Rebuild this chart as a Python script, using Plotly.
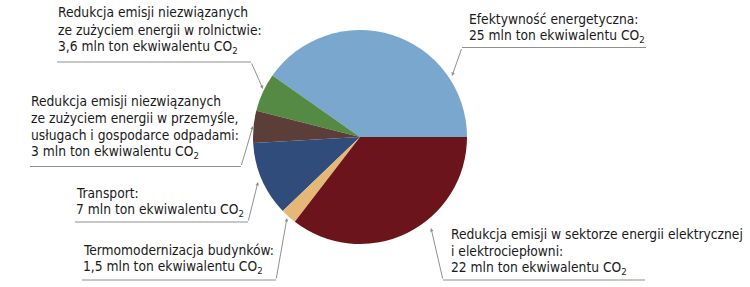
import plotly.graph_objects as go

W, H = 750, 287

# ---- data ----
categories = [
    "Efektywność energetyczna",
    "Rolnictwo",
    "Przemysł, usługi i gospodarka odpadami",
    "Transport",
    "Termomodernizacja budynków",
    "Sektor energii elektrycznej i elektrociepłownie",
]
values = [25, 3.6, 3, 7, 1.5, 22]
colors = ["#7AA7CD", "#558A44", "#5B3E37", "#2F4C7B", "#E5B877", "#6B141C"]

CO2 = "CO<sub>2</sub>"
label_lines = [
    ["Efektywność energetyczna:", "25 mln ton ekwiwalentu " + CO2],
    ["Redukcja emisji niezwiązanych", "ze zużyciem energii w rolnictwie:",
     "3,6 mln ton ekwiwalentu " + CO2],
    ["Redukcja emisji niezwiązanych", "ze zużyciem energii w przemyśle,",
     "usługach i gospodarce odpadami:", "3 mln ton ekwiwalentu " + CO2],
    ["Transport:", "7 mln ton ekwiwalentu " + CO2],
    ["Termomodernizacja budynków:", "1,5 mln ton ekwiwalentu " + CO2],
    ["Redukcja emisji w sektorze energii elektrycznej", "i elektrociepłowni:",
     "22 mln ton ekwiwalentu " + CO2],
]

# ---- layout of labels (pixels) ----
text_pos = [(468, 23), (57, 17), (30, 105), (75, 197), (82, 254), (450, 238)]
underlines = [(462, 646, 47.5), (57, 251, 62), (30, 241, 166.5),
              (75, 248, 222), (82, 276, 280), (443, 645, 280)]
tails = [(462, 47.5), (251, 62), (241, 166.5), (248, 222), (276, 280), (443, 280)]
tips = [(452, 76), (263, 89), (253, 126), (258, 182), (287, 218), (431, 228)]

FONT = "DejaVu Sans Condensed, Liberation Sans Narrow, sans-serif"
FS = 13.7
LS = 17.3
LINE_COL = "#8F8F8F"

cx, cy, r = 360, 137, 107

# first slice sweeps counter-clockwise from 3 o'clock
first_angle = 360 * values[0] / sum(values)
rotation = 90 - first_angle

fig = go.Figure()
fig.add_trace(go.Pie(
    labels=categories, values=values, sort=False, direction="counterclockwise",
    rotation=rotation, textinfo="none", hoverinfo="label+value",
    marker=dict(colors=colors, line=dict(width=0)),
    domain=dict(x=[(cx - r) / W, (cx + r) / W], y=[1 - (cy + r) / H, 1 - (cy - r) / H]),
    showlegend=False,
))

annotations = []
shapes = []
for lines, (tx, ty) in zip(label_lines, text_pos):
    for i, line in enumerate(lines):
        by = ty + i * LS
        annotations.append(dict(
            x=tx / W, y=1 - (by - 4.5) / H, xref="paper", yref="paper",
            xanchor="left", yanchor="middle", text=line, showarrow=False,
            font=dict(family=FONT, size=FS, color="#1A1A1A"), borderpad=0,
        ))

for (x0, x1, y), (tlx, tly), (px, py) in zip(underlines, tails, tips):
    shapes.append(dict(type="line", xref="paper", yref="paper",
                       x0=x0 / W, x1=x1 / W, y0=1 - y / H, y1=1 - y / H,
                       line=dict(color=LINE_COL, width=1)))
    annotations.append(dict(
        x=px / W, y=1 - py / H, xref="paper", yref="paper", text="",
        showarrow=True, ax=tlx - px, ay=tly - py, arrowhead=2,
        arrowsize=0.7, arrowwidth=1, arrowcolor=LINE_COL, standoff=0,
    ))

fig.update_layout(
    width=W, height=H, margin=dict(l=0, r=0, t=0, b=0),
    paper_bgcolor="white", plot_bgcolor="white",
    annotations=annotations, shapes=shapes,
)

fig.write_html("out.html")
